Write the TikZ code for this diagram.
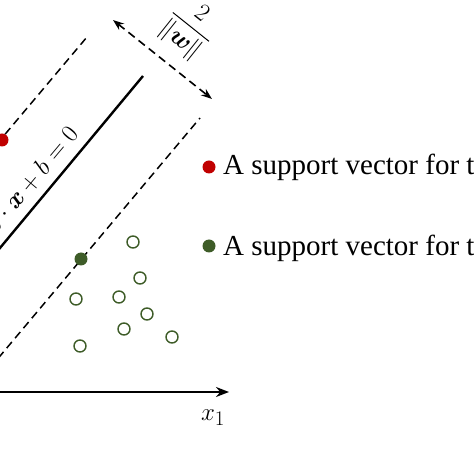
\documentclass[tikz,border=0pt]{standalone}
\usepackage{amsmath}
\usepackage{fontspec}
\setmainfont{Liberation Serif}
\usetikzlibrary{arrows.meta}
\definecolor{svred}{RGB}{192,0,0}
\definecolor{svgreen}{RGB}{62,92,40}

\begin{document}
\begin{tikzpicture}[x=1pt, y=1pt,
  margin/.style={dash pattern=on 8pt off 5pt, line width=1.5pt},
  hyper/.style={line width=2.4pt},
  dot/.style={circle, inner sep=0pt, minimum size=13pt},
  sample/.style={circle, draw=svgreen, line width=1.4pt, inner sep=0pt, minimum size=12pt},
  legend/.style={inner sep=0pt, anchor=base west, font=\fontsize{29}{34}\selectfont},
  big/.style={font=\fontsize{29}{34}\selectfont}
]
  \useasboundingbox (0,0) rectangle (474,474);
  \clip (0,0) rectangle (474,474);

  \coordinate (up1) at (-20,310);
  \coordinate (up2) at (87,437);
  \coordinate (hp1) at (-20,202);
  \coordinate (hp2) at (143,398);
  \coordinate (lo1) at (-10,106);
  \coordinate (lo2) at (200,356);
  \draw[margin] (up1) -- (up2);
  \draw[hyper] (hp1) -- (hp2);
  \draw[margin] (lo1) -- (lo2);

  \coordinate (gapA) at (113,454);
  \coordinate (gapB) at (212,375);
  \draw[margin, line width=1.6pt, {Stealth[length=11pt,width=8pt]}-{Stealth[length=11pt,width=8pt]}] (gapA) -- (gapB);
  \node[big, rotate=-38.6] (gap) at (190,446) {$\dfrac{2}{\|\boldsymbol{w}\|}$};
  \node[big, rotate=50] (eq) at (29,291) {$\boldsymbol{w}\cdot\boldsymbol{x}+b=0$};

  \node[dot, fill=svred] (svneg) at (2,334) {};
  \node[dot, fill=svgreen] (svpos) at (81,215) {};
  \node[sample] (p1) at (133,232) {};
  \node[sample] (p2) at (140,196) {};
  \node[sample] (p3) at (76,175) {};
  \node[sample] (p4) at (119,177) {};
  \node[sample] (p5) at (147,160) {};
  \node[sample] (p6) at (124,145) {};
  \node[sample] (p7) at (172,137) {};
  \node[sample] (p8) at (80,128) {};

  \coordinate (o) at (-10,82);
  \coordinate (xend) at (229,82);
  \draw[line width=1.9pt, -{Stealth[length=13pt,width=10pt]}] (o) -- (xend);
  \node[font=\fontsize{30}{34}\selectfont] (xlab) at (213,56) {$x_1$};

  \node[dot, fill=svred] (kneg) at (209,307) {};
  \node[legend] (tneg) at (223,299) {A support vector for the};
  \node[dot, fill=svgreen] (kpos) at (209,228) {};
  \node[legend] (tpos) at (223,218) {A support vector for the};
\end{tikzpicture}
\end{document}
